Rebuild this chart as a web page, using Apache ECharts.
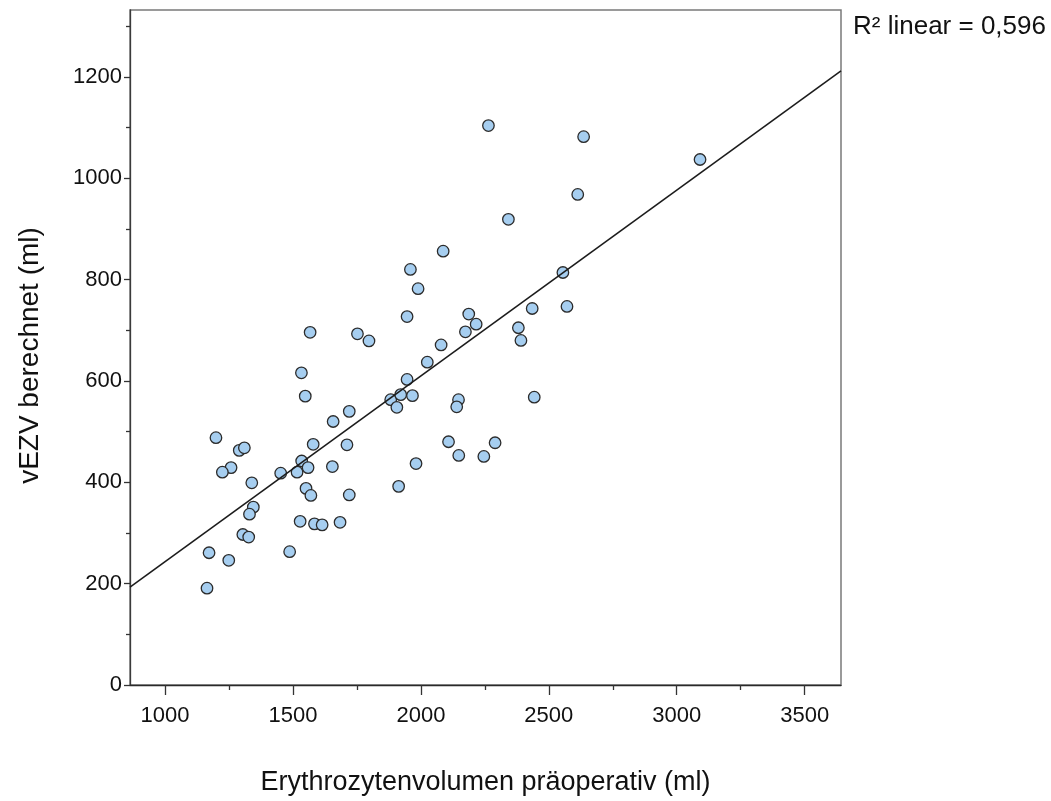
<!DOCTYPE html>
<html>
<head>
<meta charset="utf-8">
<script src="https://cdn.jsdelivr.net/npm/echarts@6/dist/echarts.min.js"></script>
<style>
html,body{margin:0;padding:0;background:#fff;}
#chart{width:1051px;height:801px;}
</style>
</head>
<body>
<div id="chart"></div>
<script>
// Erythrozytenvolumen präoperativ (ml)
var xValues = [2264, 2636, 2613, 2342, 2087, 1959, 1989, 2555, 1946, 2187, 2216, 2174, 2435, 2571, 2381, 2391, 2079, 2025, 1946, 1882, 1921, 1906, 1967, 2147, 2140, 2443, 2108, 2290, 2148, 2246, 1981, 1913, 3091, 1567, 1752, 1797, 1533, 1548, 1720, 1657, 1199, 1290, 1310, 1579, 1711, 1534, 1258, 1224, 1452, 1516, 1559, 1654, 1339, 1551, 1570, 1720, 1345, 1330, 1528, 1584, 1614, 1684, 1304, 1327, 1487, 1172, 1249, 1164];
// vEZV berechnet (ml)
var yValues = [1104, 1082, 968, 919, 856, 820, 782, 814, 727, 732, 712, 697, 743, 747, 705, 680, 671, 637, 603, 563, 573, 548, 571, 563, 549, 568, 480, 478, 453, 451, 437, 392, 1037, 696, 693, 679, 616, 570, 540, 520, 488, 463, 468, 475, 474, 442, 429, 420, 418, 420, 429, 431, 399, 388, 374, 375, 351, 337, 323, 318, 316, 321, 297, 292, 263, 261, 246, 191];
// fit line endpoints (at the plot edges)
var fitX = [863, 3642];
var fitY = [193, 1212];
var xTickLabels = [1000, 1500, 2000, 2500, 3000, 3500];
var xMinorTicks = [1250, 1750, 2250, 2750, 3250];
var yTickLabels = [0, 200, 400, 600, 800, 1000, 1200];
var yMinorTicks = [100, 300, 500, 700, 900, 1100, 1300];
var xRange = [863, 3642];
var yRange = [0, 1332];
var r2Text = 'R\u00B2 linear = 0,596';
var xTitle = 'Erythrozytenvolumen präoperativ (ml)';
var yTitle = 'vEZV berechnet (ml)';

var points = xValues.map(function (x, i) { return [x, yValues[i]]; });
var fitLine = fitX.map(function (x, i) { return [x, fitY[i]]; });

var FONT = '"Liberation Sans", Arial, sans-serif';
var plain = function (v) { return String(v); };
var chart = echarts.init(document.getElementById('chart'), null, {renderer: 'canvas'});
chart.setOption({
  animation: false,
  backgroundColor: '#ffffff',
  grid: {left: 130, top: 10, width: 711, height: 677, show: true, borderColor: '#7a7a7a', borderWidth: 1.5, backgroundColor: 'transparent'},
  xAxis: [{
    type: 'value', min: xRange[0], max: xRange[1], position: 'bottom',
    axisLine: {show: true, onZero: false, lineStyle: {color: '#2a2a2a', width: 1.3}},
    axisTick: {show: true, customValues: xTickLabels, length: 10, lineStyle: {color: '#333', width: 1.3}},
    axisLabel: {show: true, customValues: xTickLabels, formatter: plain, fontSize: 22, color: '#111', fontFamily: FONT, margin: 20},
    splitLine: {show: false},
    name: xTitle, nameLocation: 'middle', nameGap: 84,
    nameTextStyle: {fontSize: 27, color: '#111', fontFamily: FONT}
  }, {
    type: 'value', min: xRange[0], max: xRange[1], position: 'bottom',
    axisLine: {show: false},
    axisTick: {show: true, customValues: xMinorTicks, length: 5, lineStyle: {color: '#333', width: 1.3}},
    axisLabel: {show: false},
    splitLine: {show: false}
  }],
  yAxis: [{
    type: 'value', min: yRange[0], max: yRange[1], position: 'left',
    axisLine: {show: true, onZero: false, lineStyle: {color: '#3a3a3a', width: 1.3}},
    axisTick: {show: true, customValues: yTickLabels, length: 6, lineStyle: {color: '#333', width: 1.3}},
    axisLabel: {show: true, customValues: yTickLabels, formatter: plain, fontSize: 22, color: '#111', fontFamily: FONT, margin: 8},
    splitLine: {show: false},
    name: yTitle, nameLocation: 'middle', nameGap: 86, nameRotate: 90,
    nameTextStyle: {fontSize: 28, color: '#111', fontFamily: FONT, padding: [0, 16, 0, 0]}
  }, {
    type: 'value', min: yRange[0], max: yRange[1], position: 'left',
    axisLine: {show: false},
    axisTick: {show: true, customValues: yMinorTicks, length: 4, lineStyle: {color: '#333', width: 1.3}},
    axisLabel: {show: false},
    splitLine: {show: false}
  }],
  graphic: [{
    type: 'text', left: 853, top: 14,
    style: {text: r2Text, fontSize: 26, fontFamily: FONT, fill: '#111'}
  }],
  series: [{
    type: 'scatter', xAxisIndex: 0, yAxisIndex: 0, data: points,
    symbol: 'circle', symbolSize: 11.5,
    itemStyle: {color: '#a6cef0', borderColor: '#2b2b2b', borderWidth: 1.3, opacity: 1},
    z: 2
  }, {
    type: 'line', xAxisIndex: 0, yAxisIndex: 0, data: fitLine,
    symbol: 'none', clip: true,
    lineStyle: {color: '#1c1c1c', width: 1.6},
    z: 3
  }]
});
</script>
</body>
</html>
